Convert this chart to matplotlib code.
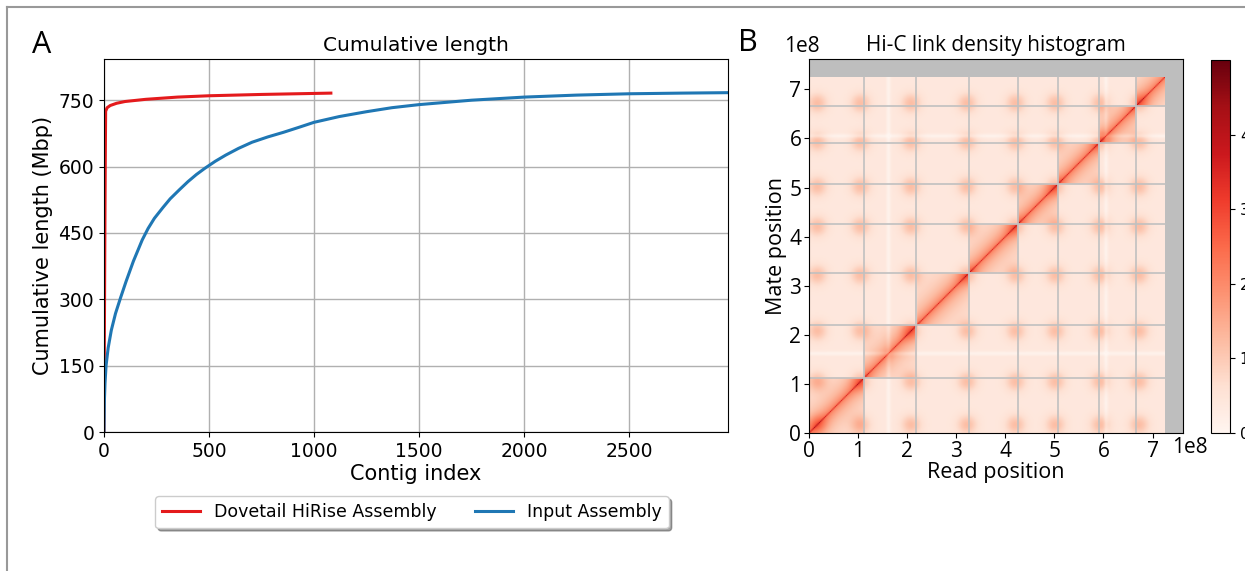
import matplotlib
matplotlib.use('Agg')
import matplotlib.pyplot as plt
import numpy as np
from matplotlib.lines import Line2D

# ---- panel A: cumulative length curves (contig index, Mbp) ----
hirise_idx = [0, 1, 2, 3, 4, 5, 6, 7, 8, 15, 30, 60, 100, 200, 350, 500, 750, 1080]
hirise_mbp = [0, 110, 215, 320, 420, 510, 590, 660, 725, 733, 738, 743, 747, 752, 757, 760, 763, 766]

input_idx = [0, 2, 5, 10, 20, 35, 55, 78, 105, 140, 182, 210, 240, 280, 315, 360, 400, 440,
             480, 530, 580, 640, 705, 780, 855, 930, 1000, 1120, 1250, 1370, 1500, 1750,
             2000, 2250, 2500, 2750, 2970]
input_mbp = [0, 70, 110, 150, 190, 230, 268, 302, 340, 386, 434, 460, 483, 507, 527, 548, 566, 582,
             596, 612, 626, 641, 655, 667, 677.5, 689, 700, 713, 724, 733, 740, 750,
             757, 761.5, 764.5, 766, 767]

# ---- panel B: Hi-C map description (positions in units of 1e8 bp) ----
chrom_bounds = [0, 1.113, 2.19, 3.262, 4.262, 5.082, 5.908, 6.66, 7.25]
hotspots = [0.17, 1.05, 2.08, 3.22, 4.21, 5.02, 5.93, 6.72]
low_stripes = [1.62, 6.05]
genome_len = 7.25
bin_size = 0.025

fig = plt.figure(figsize=(12.45, 5.71), dpi=100)

########################################################################
# Panel A
########################################################################
axA = fig.add_axes([0.0835, 0.2434, 0.5012, 0.6532])
axA.plot(hirise_idx, hirise_mbp, color='#e41a1c', lw=2.2, label='Dovetail HiRise Assembly')
axA.plot(input_idx, input_mbp, color='#1f77b4', lw=2.2, label='Input Assembly')
axA.set_xlim(0, 2970)
axA.set_ylim(0, 843)
axA.set_yticks([0, 150, 300, 450, 600, 750])
axA.set_xticks([0, 500, 1000, 1500, 2000, 2500])
axA.grid(True, color='#b0b0b0', lw=1)
axA.set_axisbelow(True)
axA.tick_params(labelsize=13.5)
axA.set_title('Cumulative length', fontsize=14.5)
axA.set_xlabel('Contig index', fontsize=15, labelpad=2)
axA.set_ylabel('Cumulative length (Mbp)', fontsize=15)

fig.legend(loc='center', bbox_to_anchor=(0.331, 0.103), ncol=2, shadow=True,
           fancybox=True, fontsize=12.5, columnspacing=2.2, handlelength=2.2)

########################################################################
# Panel B
########################################################################
nb = int(round(genome_len / bin_size))
pos = (np.arange(nb) + 0.5) * bin_size
chrom_id = np.searchsorted(chrom_bounds, pos, side='right') - 1
X, Y = np.meshgrid(pos, pos)
d = np.abs(X - Y)
same = chrom_id[:, None] == chrom_id[None, :]

mat = np.full((nb, nb), 0.4)
mat += same * (0.2 + 1.6 * np.exp(-d / 0.3) + 1.2 * np.exp(-d / 0.01))
for h1 in hotspots:
    for h2 in hotspots:
        mat += 0.8 * np.exp(-((X - h1) ** 2 + (Y - h2) ** 2) / (2 * 0.14 ** 2))
for s in low_stripes:
    dip = 0.3 * np.exp(-((pos - s) ** 2) / (2 * 0.03 ** 2))
    mat -= dip[None, :] + dip[:, None]
mat = np.clip(mat, 0, None)

axB = fig.add_axes([0.6498, 0.2417, 0.3004, 0.655])
axB.set_facecolor('#bebebe')
im = axB.imshow(mat, cmap='Reds', vmin=0, vmax=5, origin='lower', interpolation='bilinear',
                extent=[0, genome_len * 1e8, 0, genome_len * 1e8], aspect='auto')
for b in chrom_bounds[1:-1]:
    axB.plot([0, genome_len * 1e8], [b * 1e8, b * 1e8], color='#c0c0c0', lw=1.2)
    axB.plot([b * 1e8, b * 1e8], [0, genome_len * 1e8], color='#c0c0c0', lw=1.2)
axB.set_xlim(0, 7.62e8)
axB.set_ylim(0, 7.62e8)
axB.set_xticks(np.arange(8) * 1e8)
axB.set_yticks(np.arange(8) * 1e8)
axB.set_xticklabels([str(i) for i in range(8)])
axB.set_yticklabels([str(i) for i in range(8)])
bfont = 'Open Sans'
axB.tick_params(labelsize=15, pad=2)
for lab in axB.get_xticklabels() + axB.get_yticklabels():
    lab.set_family(bfont)
axB.set_title('Hi-C link density histogram', fontsize=15, family=bfont)
axB.set_xlabel('Read position', fontsize=15.5, family=bfont, labelpad=0)
axB.set_ylabel('Mate position', fontsize=15.5, family=bfont, labelpad=2)
fig.text(0.644, 0.918, '1e8', fontsize=15, ha='center', va='center', family=bfont)
fig.text(0.956, 0.216, '1e8', fontsize=15, ha='center', va='center', family=bfont)

cax = fig.add_axes([0.9727, 0.2417, 0.0153, 0.6532])
cb = fig.colorbar(im, cax=cax)
cb.set_ticks([0, 1, 2, 3, 4])
cb.ax.tick_params(labelsize=11)

# panel letters and outer frame
fig.text(0.0337, 0.921, 'A', fontsize=22, ha='center', va='center', family='Open Sans')
fig.text(0.601, 0.925, 'B', fontsize=22, ha='center', va='center', family='Open Sans')
fig.add_artist(Line2D([7 / 1245, 7 / 1245], [0, 1 - 7 / 571], color='#999999', lw=1.5))
fig.add_artist(Line2D([7 / 1245, 1], [1 - 7 / 571, 1 - 7 / 571], color='#999999', lw=1.5))

fig.savefig('out.png', dpi=100)
